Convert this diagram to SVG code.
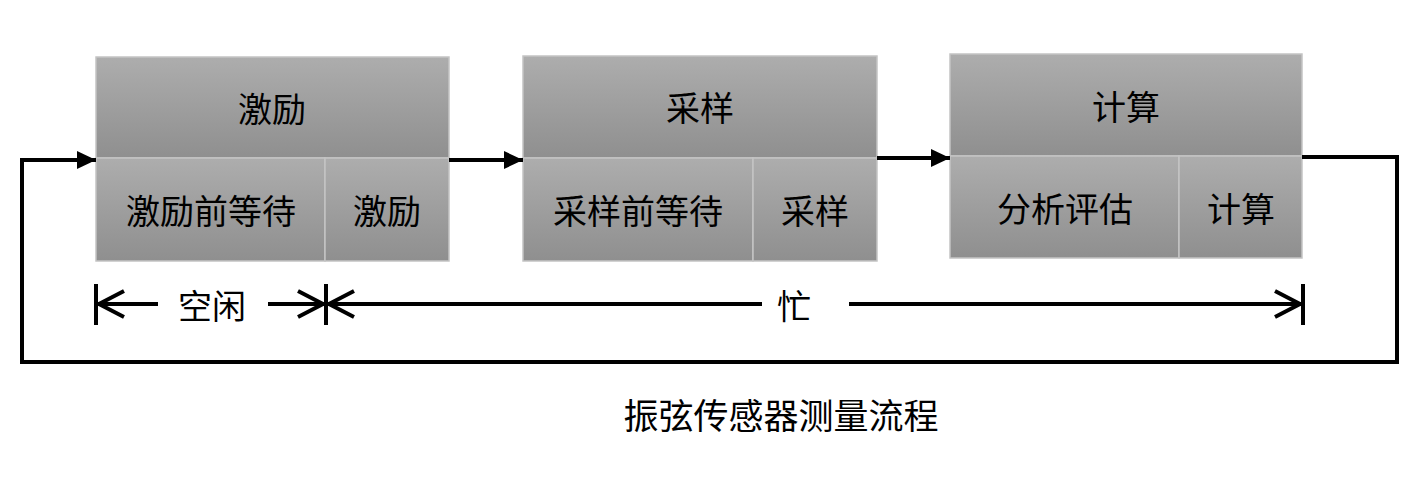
<svg xmlns="http://www.w3.org/2000/svg" width="1424" height="497" viewBox="0 0 1424 497">
<defs>
<linearGradient id="g" x1="0" y1="0" x2="0" y2="1">
<stop offset="0" stop-color="#adadad"/>
<stop offset="1" stop-color="#8f8f8f"/>
</linearGradient>
<marker id="ah" markerUnits="userSpaceOnUse" markerWidth="20" markerHeight="20" refX="19" refY="10" orient="auto" viewBox="0 0 20 20">
<path d="M0,1 L19,10 L0,19 Z" fill="#000"/>
</marker>
</defs>
<style>
.cell{fill:url(#g);stroke:#c4c4c4;stroke-width:1.5}
.t{font-family:"Noto Sans CJK SC","Noto Sans CJK JP",sans-serif;font-size:34px;fill:#000;text-anchor:middle;dominant-baseline:central}
.cap{font-size:35px}
.ln{fill:none;stroke:#000;stroke-width:4}
.dim{fill:none;stroke:#000;stroke-width:4;stroke-linecap:butt}
</style>
<g id="node-jili">
<rect class="cell" x="96" y="57" width="353" height="101"/>
<rect class="cell" x="96" y="158" width="229" height="103"/>
<rect class="cell" x="325" y="158" width="124" height="103"/>
<text class="t" x="272" y="107">激励</text>
<text class="t" x="211" y="209">激励前等待</text>
<text class="t" x="387" y="209">激励</text>
</g>
<g id="node-caiyang">
<rect class="cell" x="523" y="56" width="354" height="102"/>
<rect class="cell" x="523" y="158" width="230" height="103"/>
<rect class="cell" x="753" y="158" width="124" height="103"/>
<text class="t" x="700" y="106">采样</text>
<text class="t" x="638" y="209">采样前等待</text>
<text class="t" x="815" y="209">采样</text>
</g>
<g id="node-jisuan">
<rect class="cell" x="950" y="54" width="352" height="102"/>
<rect class="cell" x="950" y="156" width="229" height="102"/>
<rect class="cell" x="1179" y="156" width="123" height="102"/>
<text class="t" x="1126" y="105">计算</text>
<text class="t" x="1065" y="207">分析评估</text>
<text class="t" x="1241" y="207">计算</text>
</g>
<g id="connectors">
<line class="ln" x1="449" y1="160" x2="523" y2="160" marker-end="url(#ah)"/>
<line class="ln" x1="877" y1="158" x2="950" y2="158" marker-end="url(#ah)"/>
<polyline class="ln" points="1302,157 1397,157 1397,362 22,362 22,160 96,160" marker-end="url(#ah)"/>
</g>
<g id="dimension">
<line class="dim" x1="96" y1="284" x2="96" y2="325"/>
<line class="dim" x1="326" y1="284" x2="326" y2="325"/>
<line class="dim" x1="1303" y1="284" x2="1303" y2="325"/>
<line class="dim" x1="98" y1="304" x2="158" y2="304"/>
<polyline class="dim" points="124,291 99,304 124,317"/>
<line class="dim" x1="268" y1="304" x2="324" y2="304"/>
<polyline class="dim" points="298,291 323,304 298,317"/>
<line class="dim" x1="328" y1="304" x2="762" y2="304"/>
<polyline class="dim" points="354,291 329,304 354,317"/>
<line class="dim" x1="849" y1="304" x2="1301" y2="304"/>
<polyline class="dim" points="1275,291 1300,304 1275,317"/>
<text class="t" x="212" y="304">空闲</text>
<text class="t" x="794" y="304">忙</text>
</g>
<text class="t cap" x="781" y="413">振弦传感器测量流程</text>
</svg>
